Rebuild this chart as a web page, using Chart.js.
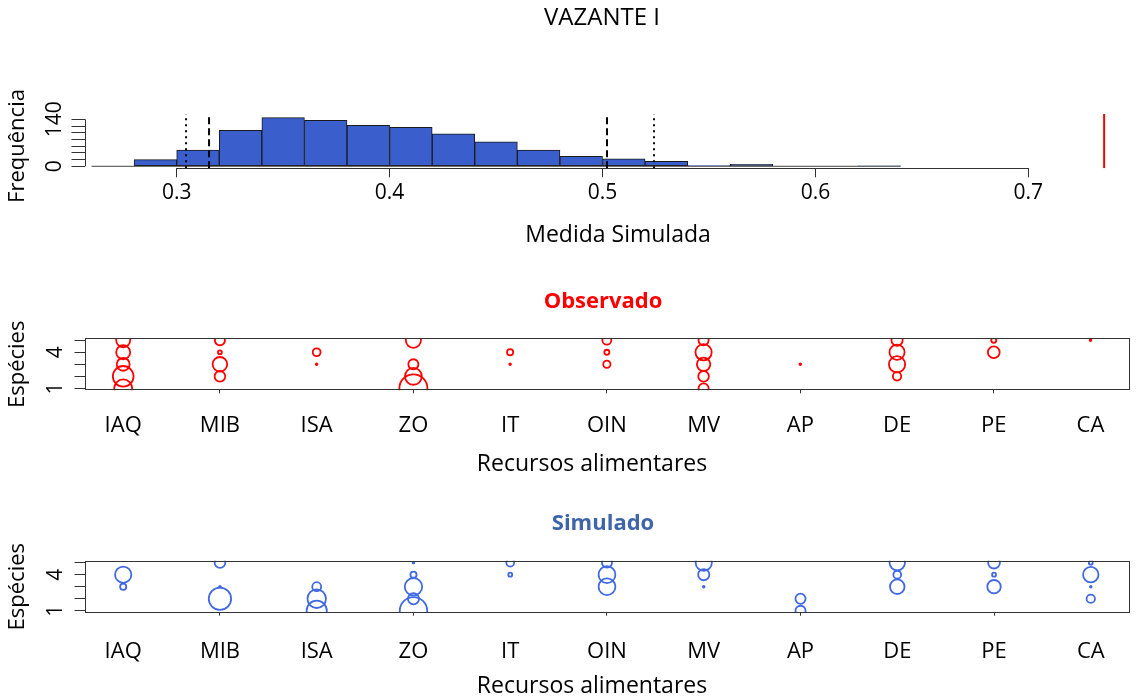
<!DOCTYPE html>
<html lang="pt">
<head>
<meta charset="utf-8">
<title>VAZANTE I</title>
<script src="https://cdn.jsdelivr.net/npm/chart.js@4.4.1/dist/chart.umd.min.js"></script>
<style>
  html, body { margin: 0; padding: 0; background: #ffffff; }
  #painel { position: relative; width: 1145px; height: 700px; overflow: hidden; }
  #painel canvas { position: absolute; left: 0; }
</style>
</head>
<body>
<div id="painel">
  <canvas id="histograma" width="1145" height="260" style="top:0px"></canvas>
  <canvas id="observado" width="1145" height="220" style="top:260px"></canvas>
  <canvas id="simulado" width="1145" height="220" style="top:480px"></canvas>
</div>
<script>
// ---- Histograma da medida simulada ----
const limitesClasse = [0.26, 0.28, 0.30, 0.32, 0.34, 0.36, 0.38, 0.40, 0.42, 0.44,
                       0.46, 0.48, 0.50, 0.52, 0.54, 0.56, 0.58, 0.60, 0.62, 0.64];
const frequencias   = [0, 20, 48, 107, 145, 137, 122, 116, 97, 73,
                       48, 30, 22, 15, 2, 6, 0, 0, 1];
const quantis95 = [0.3152, 0.5021];   // linhas tracejadas
const quantis99 = [0.3044, 0.5242];   // linhas pontilhadas
const medidaObservada = 0.7356;       // linha vermelha
const ticksMedida = [0.3, 0.4, 0.5, 0.6, 0.7];
const ticksFrequencia = [0, 20, 40, 60, 80, 100, 120, 140];
const rotulosFrequencia = [0, 140];

// ---- Matrizes de uso de recursos (espécie x recurso) ----
const recursos = ['IAQ', 'MIB', 'ISA', 'ZO', 'IT', 'OIN', 'MV', 'AP', 'DE', 'PE', 'CA'];
const especies = [1, 2, 3, 4, 5];
const ticksEspecies = [1, 2, 3, 4, 5];
const rotulosEspecies = [1, 4];

const obsEsp1 = [0.32, 0,    0,    0.50, 0,    0,    0.18, 0,    0,    0,    0   ];
const obsEsp2 = [0.37, 0.19, 0,    0.30, 0,    0,    0.19, 0,    0.15, 0,    0   ];
const obsEsp3 = [0.23, 0.26, 0.03, 0.18, 0.03, 0.13, 0.24, 0.03, 0.29, 0,    0   ];
const obsEsp4 = [0.25, 0.07, 0.14, 0,    0.11, 0.09, 0.29, 0,    0.27, 0.21, 0   ];
const obsEsp5 = [0.25, 0.18, 0,    0.27, 0,    0.16, 0.18, 0,    0.20, 0.09, 0.03];

const simEsp1 = [0,    0,    0.36, 0.49, 0,    0,    0,    0.18, 0,    0,    0   ];
const simEsp2 = [0,    0.40, 0.33, 0.20, 0,    0,    0,    0.18, 0,    0,    0.15];
const simEsp3 = [0.11, 0.03, 0.16, 0.31, 0,    0.30, 0.03, 0,    0.26, 0.24, 0.03];
const simEsp4 = [0.29, 0,    0,    0.11, 0.07, 0.30, 0.20, 0,    0.14, 0.07, 0.275];
const simEsp5 = [0,    0.19, 0,    0.03, 0.14, 0.18, 0.29, 0,    0.275, 0.21, 0.07];

// ---- Aparência ----
const FONTE = "'Open Sans', 'DejaVu Sans', sans-serif";
const AZUL_BARRA = '#3A5FCD';
const AZUL_CIRCULO = '#4169E1';
const VERMELHO = '#FF0000';
const ESCALA_RAIO = 28;           // pixels de raio por unidade de frequência
const LARGURA_EIXO_Y = 84.5;

// limites dos eixos (com a folga de 4% do R)
const HIST_X = [0.2567, 0.754];
const HIST_Y = [-6, 156];
const REC_X = [0.6, 11.4];
const ESP_Y = [0.84, 5.16];

// Desenha textos soltos, caixa do gráfico, linha do eixo X e rótulos girados do eixo Y
const estiloR = {
  id: 'estiloR',
  afterDraw(chart, args, o) {
    const ctx = chart.ctx, a = chart.chartArea;
    const xs = chart.scales.x, ys = chart.scales.y;
    ctx.save();
    ctx.strokeStyle = '#333';
    ctx.lineWidth = 1;
    if (o.caixa) {
      ctx.strokeRect(Math.round(a.left) + 0.5, Math.round(a.top) + 0.5,
                     Math.round(a.right - a.left) - 1, Math.round(a.bottom - a.top) - 1);
    }
    if (o.eixoX) {
      const x0 = xs.getPixelForValue(o.eixoX[0]), x1 = xs.getPixelForValue(o.eixoX[1]);
      const y = Math.round(a.bottom) + 0.5;
      ctx.beginPath(); ctx.moveTo(x0, y); ctx.lineTo(x1, y); ctx.stroke();
    }
    if (o.eixoY) {
      const y0 = ys.getPixelForValue(o.eixoY[0]), y1 = ys.getPixelForValue(o.eixoY[1]);
      const x = Math.round(a.left) + 0.5;
      ctx.beginPath(); ctx.moveTo(x, y0); ctx.lineTo(x, y1); ctx.stroke();
    }
    ctx.fillStyle = '#000';
    ctx.textAlign = 'center';
    ctx.textBaseline = 'middle';
    if (o.rotulosY) {
      ctx.font = '21px ' + FONTE;
      for (const v of o.rotulosY) {
        ctx.save();
        ctx.translate(o.xRotulosY, ys.getPixelForValue(v));
        ctx.rotate(-Math.PI / 2);
        ctx.fillText(String(v), 0, 0);
        ctx.restore();
      }
    }
    for (const t of (o.textos || [])) {
      ctx.save();
      ctx.font = t.fonte;
      ctx.fillStyle = t.cor || '#000';
      ctx.translate(t.x, t.y);
      if (t.girar) ctx.rotate(-Math.PI / 2);
      ctx.fillText(t.texto, 0, 0);
      ctx.restore();
    }
    ctx.restore();
  }
};

function larguraFixa(w) { return s => { s.width = w; }; }
function alturaFixa(h) { return s => { s.height = h; }; }
function ticksFixos(vals) { return s => { s.ticks = vals.map(v => ({ value: v })); }; }

function linhaVertical(v, cor, tracejado, largura) {
  return {
    type: 'line',
    data: [{ x: v, y: HIST_Y[0] }, { x: v, y: HIST_Y[1] }],
    borderColor: cor, borderWidth: largura, borderDash: tracejado,
    pointRadius: 0, fill: false, order: 1, clip: 0
  };
}

// ---- Gráfico 1: histograma ----
const barras = frequencias.map((f, i) => ({ x: (limitesClasse[i] + limitesClasse[i + 1]) / 2, y: f }));

new Chart(document.getElementById('histograma'), {
  type: 'bar',
  data: {
    datasets: [
      { type: 'bar', data: barras, backgroundColor: AZUL_BARRA, borderColor: '#1a1a1a',
        borderWidth: 1, borderSkipped: false, barPercentage: 1, categoryPercentage: 1, order: 3 },
      { type: 'line', data: [{ x: limitesClasse[0], y: 0 }, { x: limitesClasse[limitesClasse.length - 1], y: 0 }],
        borderColor: '#444', borderWidth: 1, pointRadius: 0, order: 2 },
      ...quantis95.map(q => linhaVertical(q, '#000', [7, 4], 2)),
      ...quantis99.map(q => linhaVertical(q, '#000', [2, 4], 2)),
      linhaVertical(medidaObservada, VERMELHO, [], 2)
    ]
  },
  options: {
    responsive: false, animation: false, events: [],
    layout: { padding: { top: 114, right: 1.7, left: 0, bottom: 0 } },
    plugins: {
      legend: { display: false }, tooltip: { enabled: false },
      estiloR: {
        eixoX: [ticksMedida[0], ticksMedida[ticksMedida.length - 1]],
        eixoY: [ticksFrequencia[0], ticksFrequencia[ticksFrequencia.length - 1]],
        rotulosY: rotulosFrequencia, xRotulosY: 55,
        textos: [
          { texto: 'VAZANTE I', x: 602, y: 18, fonte: '24px ' + FONTE },
          { texto: 'Medida Simulada', x: 618, y: 235, fonte: '23px ' + FONTE },
          { texto: 'Frequência', x: 18, y: 146, fonte: '22px ' + FONTE, girar: true }
        ]
      }
    },
    scales: {
      x: {
        type: 'linear', min: HIST_X[0], max: HIST_X[1], offset: false,
        afterBuildTicks: ticksFixos(ticksMedida), afterFit: alturaFixa(91.7),
        border: { display: false },
        grid: { offset: false, drawOnChartArea: false, drawTicks: true, tickLength: 9, color: '#333' },
        ticks: { color: '#000', font: { family: FONTE, size: 21 }, padding: 3, maxRotation: 0,
                 callback: v => String(v) }
      },
      y: {
        type: 'linear', min: HIST_Y[0], max: HIST_Y[1],
        afterBuildTicks: ticksFixos(ticksFrequencia), afterFit: larguraFixa(LARGURA_EIXO_Y),
        border: { display: false },
        grid: { drawOnChartArea: false, drawTicks: true, tickLength: 13, color: '#333' },
        ticks: { display: false }
      }
    }
  },
  plugins: [estiloR]
});

// ---- Gráficos 2 e 3: círculos espécie x recurso ----
function circulos(linhas) {
  const pts = [];
  linhas.forEach((linha, s) => {
    linha.forEach((v, i) => {
      if (v > 0) pts.push({ x: i + 1, y: especies[s], r: v * ESCALA_RAIO });
    });
  });
  return pts;
}

function graficoRecursos(id, linhas, cor, titulo, corTitulo, topo, baseCanvas, folgaRotulo) {
  const alturaCanvas = 220;
  new Chart(document.getElementById(id), {
    type: 'bubble',
    data: {
      datasets: [{
        data: circulos(linhas), borderColor: cor, backgroundColor: 'rgba(0,0,0,0)',
        borderWidth: 1.8, clip: 0, hoverRadius: 0
      }]
    },
    options: {
      responsive: false, animation: false, events: [],
      layout: { padding: { top: topo, right: 1.7, left: 0, bottom: 0 } },
      plugins: {
        legend: { display: false }, tooltip: { enabled: false },
        estiloR: {
          caixa: true, rotulosY: rotulosEspecies, xRotulosY: 56,
          textos: [
            { texto: titulo, x: 603, y: topo - 37, fonte: 'bold 22px ' + FONTE, cor: corTitulo },
            { texto: 'Recursos alimentares', x: 592, y: baseCanvas + 74, fonte: '23px ' + FONTE },
            { texto: 'Espécies', x: 18, y: (topo + baseCanvas) / 2, fonte: '22px ' + FONTE, girar: true }
          ]
        }
      },
      scales: {
        x: {
          type: 'linear', min: REC_X[0], max: REC_X[1],
          afterBuildTicks: ticksFixos(recursos.map((r, i) => i + 1)),
          afterFit: alturaFixa(alturaCanvas - baseCanvas),
          border: { display: false },
          grid: { drawOnChartArea: false, drawTicks: true, tickLength: 3,
                  color: c => (c.tick && c.tick.value % 2 === 0) ? '#333' : 'rgba(0,0,0,0)' },
          ticks: { color: '#000', font: { family: FONTE, size: 22 }, padding: folgaRotulo, maxRotation: 0,
                   autoSkip: false, callback: v => recursos[v - 1] }
        },
        y: {
          type: 'linear', min: ESP_Y[0], max: ESP_Y[1],
          afterBuildTicks: ticksFixos(ticksEspecies), afterFit: larguraFixa(LARGURA_EIXO_Y),
          border: { display: false },
          grid: { drawOnChartArea: false, drawTicks: true, tickLength: 10, color: '#333' },
          ticks: { display: false }
        }
      }
    },
    plugins: [estiloR]
  });
}

graficoRecursos('observado', [obsEsp1, obsEsp2, obsEsp3, obsEsp4, obsEsp5],
                VERMELHO, 'Observado', VERMELHO, 78.3, 130.3, 19.5);
graficoRecursos('simulado', [simEsp1, simEsp2, simEsp3, simEsp4, simEsp5],
                AZUL_CIRCULO, 'Simulado', '#3E65A9', 80.7, 132.7, 22.5);
</script>
</body>
</html>
